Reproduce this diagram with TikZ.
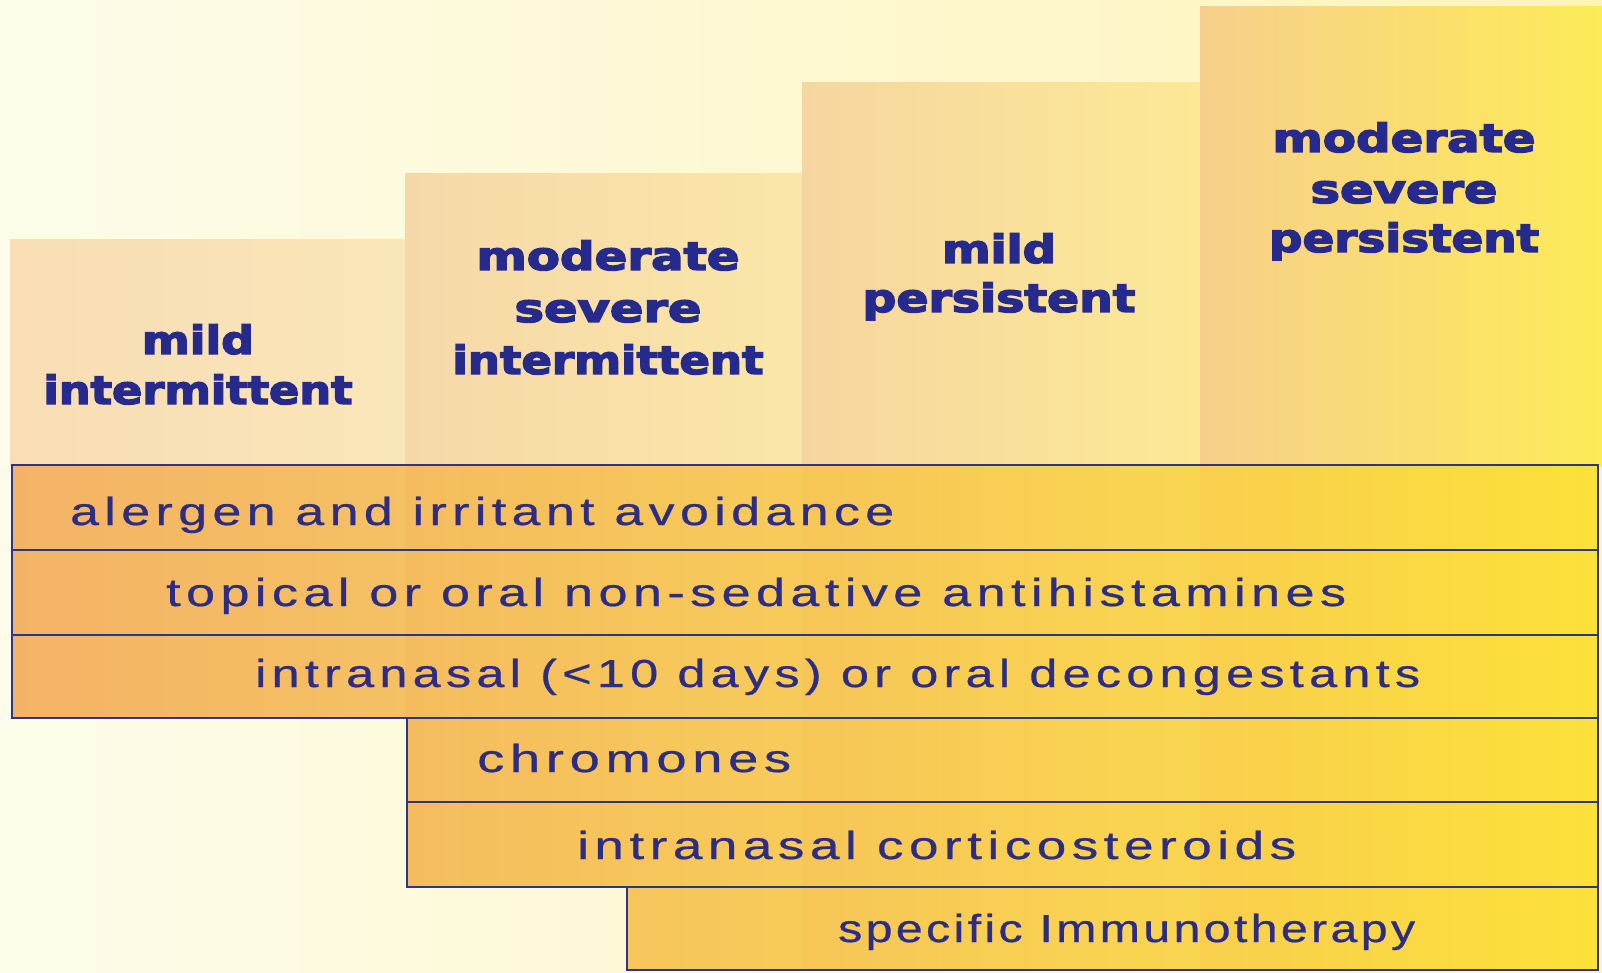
\documentclass[tikz,border=0pt]{standalone}
\usepackage{fontspec}
\usepackage{graphicx}
\newfontfamily\barfont[LetterSpace=10.5,FakeBold=0.6]{Liberation Sans}
\newfontfamily\barfontn[LetterSpace=7,FakeBold=0.6]{Liberation Sans}
\newfontfamily\headfont[FakeBold=3.5]{DejaVu Sans Bold}
\newcommand\fitw[2]{\resizebox{#1pt}{\height}{#2}}
\definecolor{bgL}{HTML}{FDFCEA}
\definecolor{bgR}{HTML}{FEF4B8}
\definecolor{c1L}{HTML}{F8DDB5}
\definecolor{c1R}{HTML}{F9E6B8}
\definecolor{c2L}{HTML}{F6D8A8}
\definecolor{c2R}{HTML}{FAE7A8}
\definecolor{c3L}{HTML}{F6D6A0}
\definecolor{c3R}{HTML}{FBE996}
\definecolor{c4L}{HTML}{F7CF8C}
\definecolor{c4R}{HTML}{FDEB58}
\definecolor{barL}{HTML}{F2A244}
\definecolor{barM}{HTML}{F7B43C}
\definecolor{barR}{HTML}{FCDE2D}
\definecolor{edge}{HTML}{2B3589}
\definecolor{ink}{HTML}{2D2E83}
\definecolor{headink}{HTML}{252A8C}
\tikzset{
  bartext/.style={anchor=base west, inner sep=0pt, text=ink, font=\fontsize{39}{40}\barfont},
  bartextn/.style={anchor=base west, inner sep=0pt, text=ink, font=\fontsize{39}{40}\barfontn},
  head/.style={anchor=base, inner sep=0pt, text=headink, font=\fontsize{39}{40}\headfont},
  barbox/.style={draw=edge, line width=2.8pt},
  stripe/.style={opacity=0.3}
}
\begin{document}
\begin{tikzpicture}[x=1pt,y=-1pt]
\useasboundingbox (0,0) rectangle (1602,973);
% background
\shade[left color=bgL, right color=bgR] (0,0) rectangle (1602,973);
% columns
\shade[left color=c1L, right color=c1R] (10,240) rectangle (405,466);
\shade[left color=c2L, right color=c2R] (405,174) rectangle (802,466);
\shade[left color=c3L, right color=c3R] (802,83) rectangle (1200,466);
\shade[left color=c4L, right color=c4R] (1200,7) rectangle (1602,466);
% bar fill
\begin{scope}
\clip (12,465) -- (1598,465) -- (1598,970) -- (627,970) -- (627,887) -- (407,887) -- (407,718) -- (12,718) -- cycle;
\shade[left color=barL, middle color=barM, right color=barR] (12,465) rectangle (1598,970);
\shade[stripe, left color=c1L, right color=c1R] (10,465) rectangle (405,970);
\shade[stripe, left color=c2L, right color=c2R] (405,465) rectangle (802,970);
\shade[stripe, left color=c3L, right color=c3R] (802,465) rectangle (1200,970);
\shade[stripe, left color=c4L, right color=c4R] (1200,465) rectangle (1602,970);
\end{scope}
% bar outlines
\draw[barbox] (12,465) rectangle (1598,550);
\draw[barbox] (12,550) rectangle (1598,635);
\draw[barbox] (12,635) rectangle (1598,718);
\draw[barbox] (407,718) rectangle (1598,802);
\draw[barbox] (407,802) rectangle (1598,887);
\draw[barbox] (627,887) rectangle (1598,970);
% headings
\node[head] (c1a) at (198,354) {\fitw{112}{mild}};
\node[head] (c1b) at (198,404) {\fitw{309}{intermittent}};
\node[head] (c2a) at (608,270) {\fitw{263}{moderate}};
\node[head] (c2b) at (608,322) {\fitw{187}{severe}};
\node[head] (c2c) at (608,374) {\fitw{311}{intermittent}};
\node[head] (c3a) at (999,263) {\fitw{114}{mild}};
\node[head] (c3b) at (999,312) {\fitw{273}{persistent}};
\node[head] (c4a) at (1404,152) {\fitw{263}{moderate}};
\node[head] (c4b) at (1404,203) {\fitw{187}{severe}};
\node[head] (c4c) at (1404,252) {\fitw{270}{persistent}};
% bar texts
\node[bartext] (t1) at (70,525) {\fitw{824}{alergen and irritant avoidance}};
\node[bartext] (t2) at (166,606) {\fitw{1180}{topical or oral non-sedative antihistamines}};
\node[bartext] (t3) at (255,687) {\fitw{1165}{intranasal (<10 days) or oral decongestants}};
\node[bartext] (t4) at (477,772) {\fitw{314}{chromones}};
\node[bartext] (t5) at (577,859) {\fitw{719}{intranasal corticosteroids}};
\node[bartextn] (t6) at (838,942) {\fitw{577}{specific Immunotherapy}};
\end{tikzpicture}
\end{document}
